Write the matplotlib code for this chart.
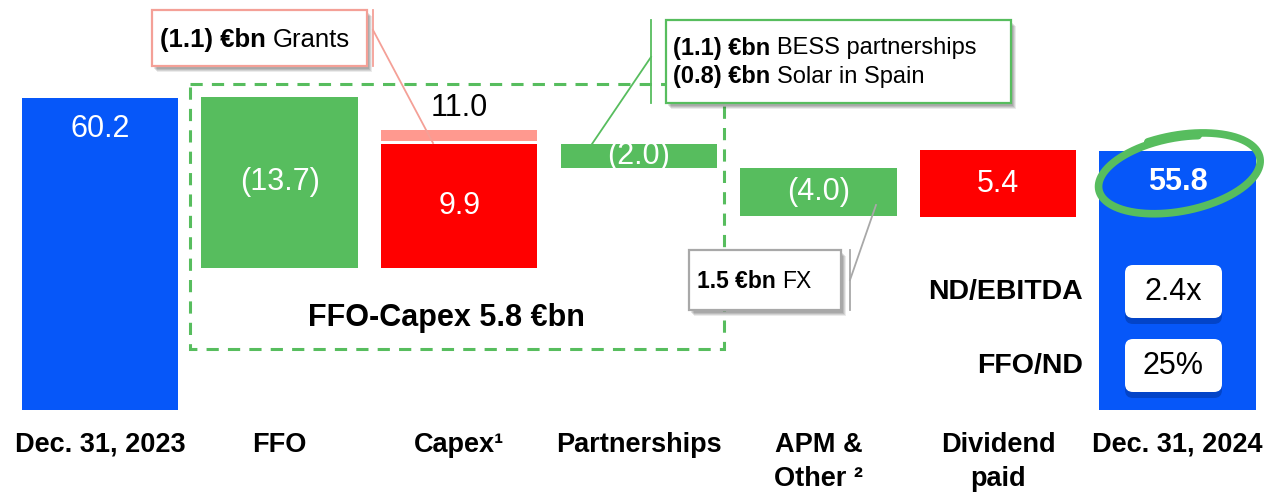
import numpy as np
import matplotlib
matplotlib.use("Agg")
import matplotlib.pyplot as plt
from matplotlib.patches import Rectangle, FancyBboxPatch

plt.rcParams['font.family'] = ['Liberation Sans', 'DejaVu Sans']

# ---------------- data ----------------
categories = ["Dec. 31, 2023", "FFO", "Capex¹", "Partnerships", "APM &\nOther ²", "Dividend\npaid", "Dec. 31, 2024"]
value_labels = ["60.2", "(13.7)", "9.9", "(2.0)", "(4.0)", "5.4", "55.8"]
# bar spans on the (hidden) chart scale, as drawn in the picture
bar_bottom = [0.0, 27.4, 27.4, 46.7, 37.4, 37.2, 0.0]
bar_top = [60.2, 60.4, 51.3, 51.3, 46.7, 50.2, 50.0]
bar_kind = ["total", "down", "up", "down", "down", "up", "total"]
grants_span = (51.9, 54.0)
capex_total_label = "11.0"
ratio_names = ["ND/EBITDA", "FFO/ND"]
ratio_values = ["2.4x", "25%"]
box_title = "FFO-Capex 5.8 €bn"

# ---------------- style ----------------
BLUE = "#0657F9"
GREEN = "#57BD5E"
RED = "#FF0000"
PINK = "#FF998F"
SALMON = "#F4A097"
kind_color = {"total": BLUE, "down": GREEN, "up": RED}

W, H = 1264, 492
PITCH = 179.6          # px per category
X0 = 100               # px centre of first bar
SCALE = 5.183          # px per unit
BASE = 410             # px of zero line

fig = plt.figure(figsize=(W / 100, H / 100), dpi=100)
ax = fig.add_axes([0, 0, 1, 1], zorder=1)
ax.axis('off')
ax.set_xlim(-X0 / PITCH, (W - X0) / PITCH)
ax.set_ylim(-(H - BASE) / SCALE, BASE / SCALE)

ov = fig.add_axes([0, 0, 1, 1], zorder=2)
ov.axis('off')
ov.set_xlim(0, W)
ov.set_ylim(H, 0)
ov.patch.set_alpha(0)

x = np.arange(len(categories))
heights = np.array(bar_top) - np.array(bar_bottom)
colors = [kind_color[k] for k in bar_kind]
ax.bar(x, heights, bottom=bar_bottom, width=0.87, color=colors, zorder=2)
ax.bar(2, grants_span[1] - grants_span[0], bottom=grants_span[0], width=0.87,
       color=PINK, zorder=2)

VFS = 22
for i, lab in enumerate(value_labels):
    if bar_kind[i] == "total":
        y = bar_top[i] - 6.0
    else:
        y = (bar_top[i] + bar_bottom[i]) / 2
    bold = 'bold' if i == len(value_labels) - 1 else 'normal'
    t = ax.text(x[i], y, lab, color='white', fontsize=VFS, ha='center',
                va='center', fontweight=bold, zorder=3)
    if bar_kind[i] != "total":
        clip = Rectangle((x[i] - 0.435, bar_bottom[i]), 0.87, heights[i],
                         transform=ax.transData)
        t.set_clip_path(clip)
ax.text(2, grants_span[1] + 23 / SCALE - 0.2, capex_total_label, color='black',
        fontsize=VFS, ha='center', va='center', zorder=3)

# category labels
for i, cat in enumerate(categories):
    lines = cat.split("\n")
    for j, ln in enumerate(lines):
        ax.text(x[i], (BASE - 452 - 34 * j) / SCALE, ln, fontsize=19.5,
                fontweight='bold', ha='center', va='baseline', color='black')

# dashed FFO-capex box
ov.add_patch(Rectangle((190, 84), 534, 265, fill=False, edgecolor=GREEN,
                       lw=2.2, ls=(0, (4, 3)), zorder=1))
ov.text(446, 318, box_title, fontsize=22, fontweight='bold', ha='center',
        va='center', zorder=3)

renderer = fig.canvas.get_renderer()


def rich(x0, y, parts, size):
    cx = x0
    for txt, wt in parts:
        t = ov.text(cx, y, txt, fontsize=size, fontweight=wt, ha='left',
                    va='center', zorder=6)
        bb = t.get_window_extent(renderer)
        cx = bb.x1


def shadow_box(x0, y0, w, h, ec, z=4):
    for k, a in enumerate([0.10, 0.10, 0.10, 0.08]):
        ov.add_patch(Rectangle((x0 + 2 + k, y0 + 3 + k), w, h, facecolor='black',
                               edgecolor='none', alpha=a, zorder=z))
    ov.add_patch(Rectangle((x0, y0), w, h, facecolor='white', edgecolor=ec,
                           lw=1.6, zorder=z + 1))


# Grants callout
shadow_box(152, 10, 215, 56, SALMON)
rich(160, 40, [("(1.1) €bn ", 'bold'), ("Grants", 'normal')], 18.5)
ov.plot([373, 373], [10, 66], color=SALMON, lw=1.3, zorder=5)
ov.plot([373, 433], [30, 143], color=SALMON, lw=1.3, zorder=5)

# Partnerships callout
shadow_box(666, 20, 345, 83, GREEN)
rich(673, 48, [("(1.1) €bn ", 'bold'), ("BESS partnerships", 'normal')], 17)
rich(673, 77, [("(0.8) €bn ", 'bold'), ("Solar in Spain", 'normal')], 17)
ov.plot([651, 651], [20, 103], color=GREEN, lw=1.3, zorder=5)
ov.plot([651, 592], [57, 144], color=GREEN, lw=1.3, zorder=5)

# FX callout
shadow_box(689, 250, 152, 60, "#A8A8A8")
rich(697, 281, [("1.5 €bn ", 'bold'), ("FX", 'normal')], 16.5)
ov.plot([850, 850], [250, 310], color="#A8A8A8", lw=1.3, zorder=5)
ov.plot([850, 876], [280, 205], color="#A8A8A8", lw=1.3, zorder=5)

# ratio labels and boxes on end bar
for k, (nm, vv) in enumerate(zip(ratio_names, ratio_values)):
    yc = 292 + 74 * k
    ov.text(1083, yc, nm, fontsize=20.5, fontweight='bold', ha='right',
            va='center', zorder=3)
    ov.add_patch(FancyBboxPatch((1125, yc - 25 + 4), 97, 53,
                                boxstyle="round,pad=0,rounding_size=8",
                                facecolor="#0238A8", edgecolor='none',
                                alpha=0.6, zorder=3))
    ov.add_patch(FancyBboxPatch((1125, yc - 27), 97, 53,
                                boxstyle="round,pad=0,rounding_size=8",
                                facecolor='white', edgecolor='none', zorder=4))
    ov.text(1173, yc, vv, fontsize=VFS, ha='center', va='center', zorder=5)

# hand-drawn ellipse around 55.8
cx, cy = 1178, 174
th0 = np.deg2rad(70)
t = np.linspace(th0, th0 + 2 * np.pi * 1.1, 400)
grow = 1 + 0.07 * (t - th0) / (2 * np.pi)
a, b = 79 * grow, 36 * grow
ex, ey = a * np.cos(t), b * np.sin(t)
rot = np.deg2rad(11)
rx = ex * np.cos(rot) - ey * np.sin(rot)
ry = ex * np.sin(rot) + ey * np.cos(rot)
ov.plot(cx + rx, cy - ry, color=GREEN, lw=5.5, solid_capstyle='round', zorder=6)

fig.savefig("out.png", dpi=100)
